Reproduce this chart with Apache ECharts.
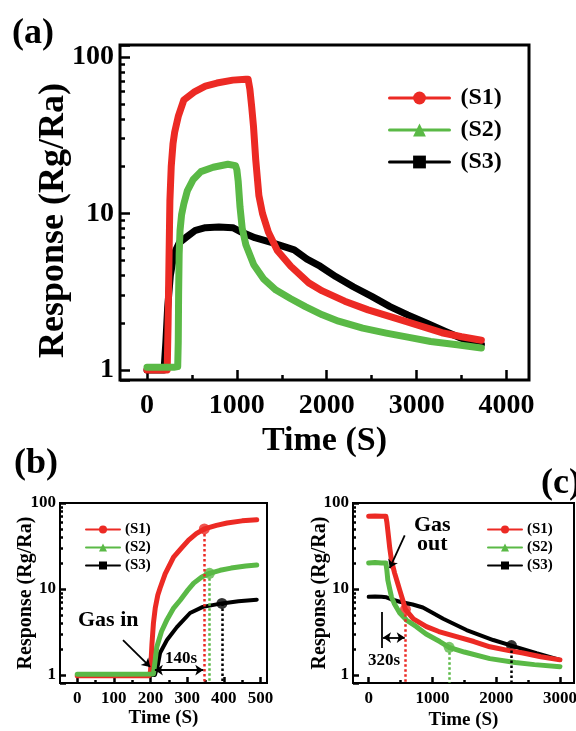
<!DOCTYPE html>
<html>
<head>
<meta charset="utf-8">
<script src="https://cdn.jsdelivr.net/npm/echarts@6/dist/echarts.min.js"></script>
<style>
html, body { margin: 0; padding: 0; background: #fff; }
#container { width: 576px; height: 731px; }
</style>
</head>
<body>
<div id="container"></div>
<script>
// ---- dados: [tempo (s), resposta Rg/Ra] ----
// (a) ciclo completo
var s1a = [[0,1.0],[100,1.0],[200,1.0],[225,1.0],[235,2],[245,5],[255,12],[270,20],[290,28],[308,33],[350,42],[410,53],[533,60],[650,65],[778,68],[955,71],[1100,72],[1125,72],[1145,62],[1165,48],[1185,36],[1210,22],[1245,13],[1285,10],[1350,7.6],[1450,5.8],[1600,4.6],[1800,3.6],[1950,3.2],[2200,2.75],[2460,2.42],[2870,2.05],[3280,1.73],[3500,1.63],[3720,1.55]];
var s2a = [[0,1.04],[100,1.04],[200,1.04],[300,1.04],[342,1.05],[348,1.5],[352,3],[358,5.5],[368,7.8],[385,9.8],[410,11.5],[450,14],[512,16.4],[600,18.5],[737,19.7],[900,20.6],[985,20.2],[1000,19],[1015,16],[1035,11],[1060,8],[1100,6.3],[1188,4.7],[1300,3.8],[1435,3.24],[1600,2.85],[1762,2.54],[1950,2.25],[2131,2.05],[2400,1.85],[2662,1.72],[2900,1.62],[3156,1.52],[3450,1.45],[3720,1.38]];
var s3a = [[0,1.0],[100,1.0],[190,1.0],[210,1.5],[230,2.5],[260,4],[300,5.5],[360,6.5],[431,7.0],[540,7.8],[650,8.1],[800,8.2],[955,8.1],[1050,7.6],[1200,7.0],[1393,6.5],[1500,6.2],[1638,5.85],[1780,5.1],[1926,4.6],[2100,3.95],[2295,3.4],[2500,2.95],[2704,2.54],[2900,2.25],[3114,1.99],[3320,1.76],[3523,1.57],[3720,1.45]];

// (b) entrada de gás
var s1b = [[0,0.98],[100,0.98],[196,0.98],[200,1.1],[204,2.3],[208,4],[213,6],[220,8.5],[226,10.2],[240,15],[263,23.5],[285,30],[304,37],[325,44],[347,50],[380,55],[409,58.5],[450,62],[490,64]];
var s2b = [[0,1.02],[100,1.02],[208,1.03],[213,1.5],[217,2.1],[230,3.2],[245,4.4],[262,5.9],[281,7.4],[300,9.5],[318,11.7],[340,13.8],[361,15.2],[390,16.5],[420,17.5],[460,18.5],[490,19]];
var s3b = [[0,1.0],[100,1.0],[212,1.0],[220,1.3],[226,1.8],[245,2.55],[272,3.6],[308,5.26],[343,6.2],[395,6.8],[440,7.2],[490,7.5]];

// (c) saída de gás
var s1c = [[0,70],[100,70.5],[200,70],[270,70],[285,60],[300,48],[315,38],[330,30],[360,21],[408,15.2],[450,12],[487,9.7],[540,7.2],[576,5.8],[700,4.5],[906,3.65],[1100,3.2],[1377,2.79],[1650,2.45],[1900,2.13],[2200,1.92],[2420,1.8],[2700,1.63],[3000,1.5]];
var s2c = [[0,20],[100,20.3],[200,20],[270,20],[285,16.5],[300,12.7],[330,10],[357,8.1],[400,6.8],[487,5.26],[600,4.3],[749,3.65],[900,3.0],[1115,2.45],[1262,2.1],[1500,1.85],[1900,1.55],[2300,1.4],[2600,1.32],[3000,1.25]];
var s3c = [[0,8.1],[100,8.2],[200,8.1],[280,8.0],[350,7.6],[487,7.1],[690,6.6],[850,6.1],[1000,5.3],[1168,4.5],[1535,3.33],[1953,2.55],[2240,2.2],[2632,1.79],[3000,1.5]];

// pontos marcados (linhas pontilhadas verticais)
var markB = [[347,50],[361,15.2],[395,6.8]];
var markC = [[576,5.8],[1262,2.1],[2240,2.2]];

// setas de anotação
var arrowGasIn = [[125,2.55],[199,1.24]];
var arrow140 = [[212,1.14],[344,1.14]];
var arrowGasOut = [[565,42],[330,17.5]];
var bar320 = [[209,5.4],[209,2.06]];
var arrow320 = [[225,2.72],[565,2.72]];

// marcas dos eixos
var xMajorA = [0,1000,2000,3000,4000];
var xMinorA = [500,1500,2500,3500];
var xMajorB = [0,100,200,300,400,500];
var xMinorB = [50,150,250,350,450];
var xMajorC = [0,1000,2000,3000];
var xMinorC = [500,1500,2500];
var yMinorLog = [2,3,4,5,6,7,8,9,20,30,40,50,60,70,80,90];

var names = ['(S1)', '(S2)', '(S3)'];
var colors = ['#ec2a24', '#5ab946', '#000000'];
var symbols = ['circle', 'triangle', 'rect'];
var FONT = '"Liberation Serif", "Times New Roman", serif';

var dom = document.getElementById('container');
var myChart = echarts.init(dom, null, { renderer: 'canvas' });

// layout de cada painel
var panels = [
    { grid: { left: 120, top: 45, width: 409, height: 335 }, border: 3,
      xMin: -300, xMax: 4250, yMin: 0.863, yMax: 119, xMajor: xMajorA, xMinor: xMinorA,
      tickFont: 28, tickLen: 10, labelGapX: 12, labelGapY: 6, nameFontX: 34, nameFontY: 36,
      nameGapX: 44, nameGapY: 48, namePadY: [0, 16, 0, 0], lineW: [7, 7, 7], series: [s1a, s2a, s3a] },
    { grid: { left: 60, top: 503, width: 207, height: 180 }, border: 2,
      xMin: -47, xMax: 518, yMin: 0.807, yMax: 100, xMajor: xMajorB, xMinor: xMinorB,
      tickFont: 17, tickLen: 6, labelGapX: 7, labelGapY: 4, nameFontX: 19, nameFontY: 20,
      nameGapX: 26, nameGapY: 24, namePadY: 0, lineW: [5, 5, 4], series: [s1b, s2b, s3b] },
    { grid: { left: 353, top: 503, width: 221, height: 180 }, border: 2,
      xMin: -246, xMax: 3220, yMin: 0.807, yMax: 100, xMajor: xMajorC, xMinor: xMinorC,
      tickFont: 17, tickLen: 6, labelGapX: 7, labelGapY: 4, nameFontX: 19, nameFontY: 20,
      nameGapX: 28, nameGapY: 23, namePadY: 0, lineW: [5, 5, 4], series: [s1c, s2c, s3c] }
];

var grids = [], xAxes = [], yAxes = [], series = [];

function tickOpt(len, values) {
    var t = { show: true, inside: true, length: len, lineStyle: { color: '#000', width: 2.5 } };
    if (values) t.customValues = values;
    return t;
}

panels.forEach(function (p, i) {
    grids.push(Object.assign({ show: true, borderColor: '#000', borderWidth: p.border,
        containLabel: false, outerBoundsMode: 'none' }, p.grid));

    var labelStyle = function () {
        return { color: '#000', fontFamily: FONT, fontWeight: 'bold', fontSize: p.tickFont };
    };
    var nameStyle = function (s, pad) {
        return { color: '#000', fontFamily: FONT, fontWeight: 'bold', fontSize: s, padding: pad || 0 };
    };

    // eixo X principal
    xAxes.push({
        gridIndex: i, type: 'value', position: 'bottom', min: p.xMin, max: p.xMax,
        name: 'Time (S)', nameLocation: 'middle', nameGap: p.nameGapX, nameTextStyle: nameStyle(p.nameFontX),
        axisLine: { show: false, onZero: false }, splitLine: { show: false },
        axisTick: tickOpt(p.tickLen, p.xMajor),
        axisLabel: Object.assign({ margin: p.labelGapX, customValues: p.xMajor,
            formatter: function (v) { return String(v); } }, labelStyle())
    });
    // marcas menores de X
    xAxes.push({
        gridIndex: i, type: 'value', position: 'bottom', min: p.xMin, max: p.xMax,
        axisLine: { show: false, onZero: false }, splitLine: { show: false }, axisLabel: { show: false },
        axisTick: tickOpt(p.tickLen / 2, p.xMinor)
    });
    // eixo Y logarítmico
    yAxes.push({
        gridIndex: i, type: 'log', logBase: 10, position: 'left', min: p.yMin, max: p.yMax,
        name: 'Response (Rg/Ra)', nameLocation: 'middle', nameGap: p.nameGapY, nameMoveOverlap: false,
        nameTextStyle: nameStyle(p.nameFontY, p.namePadY),
        axisLine: { show: false, onZero: false }, splitLine: { show: false },
        axisTick: tickOpt(p.tickLen),
        axisLabel: Object.assign({
            margin: p.labelGapY,
            formatter: function (v) {
                var l = Math.log10(v);
                return Math.abs(l - Math.round(l)) < 1e-6 ? String(Math.round(v)) : '';
            }
        }, labelStyle())
    });
    // marcas menores log (2..9) num eixo auxiliar em log10
    yAxes.push({
        gridIndex: i, type: 'value', position: 'left',
        min: Math.log10(p.yMin), max: Math.log10(p.yMax),
        axisLine: { show: false, onZero: false }, splitLine: { show: false }, axisLabel: { show: false },
        axisTick: tickOpt(p.tickLen / 2, yMinorLog.map(function (v) { return Math.log10(v); }))
    });

    // ordem de desenho: S3 embaixo, S1, S2 por cima
    [2, 0, 1].forEach(function (k) {
        series.push({
            name: names[k], type: 'line', xAxisIndex: 2 * i, yAxisIndex: 2 * i,
            data: p.series[k], showSymbol: false, symbol: symbols[k], symbolSize: 8,
            itemStyle: { color: colors[k] },
            lineStyle: { color: colors[k], width: p.lineW[k], cap: 'round', join: 'round' }
        });
    });
});

// pontos, linhas pontilhadas e setas dos painéis (b) e (c)
function dotted(pt, c, yMin) {
    return [{ coord: pt, symbol: 'none', lineStyle: { color: c, type: 'dotted', width: 2.5 } },
            { coord: [pt[0], yMin], symbol: 'none' }];
}
function arrow(a, s0, s1) {
    return [{ coord: a[0], symbol: s0, lineStyle: { color: '#000', type: 'solid', width: 1.8 } },
            { coord: a[1], symbol: s1 }];
}
[[1, markB, [arrow(arrowGasIn, 'none', 'arrow'), arrow(arrow140, 'arrow', 'arrow')]],
 [2, markC, [arrow(arrowGasOut, 'none', 'arrow'), arrow(bar320, 'none', 'none'), arrow(arrow320, 'arrow', 'arrow')]]
].forEach(function (m) {
    var i = m[0], pts = m[1], yMin = panels[i].yMin;
    var lines = pts.map(function (pt, k) { return dotted(pt, colors[k], yMin); }).concat(m[2]);
    series.push({
        name: 'marks', type: 'scatter', xAxisIndex: 2 * i, yAxisIndex: 2 * i,
        symbol: 'circle', symbolSize: 11,
        data: pts.map(function (pt, k) { return { value: pt, itemStyle: { color: colors[k] } }; }),
        markLine: { silent: true, symbolSize: 8, label: { show: false }, animation: false, data: lines }
    });
});

function legendAt(left, top, big) {
    return {
        orient: 'vertical', left: left, top: top, selectedMode: false,
        data: names, itemWidth: big ? 60 : 34, itemHeight: big ? 16 : 10,
        itemGap: big ? 8 : 3,
        lineStyle: { width: big ? 3 : 2 },
        textStyle: { color: '#000', fontFamily: FONT, fontWeight: 'bold',
            fontSize: big ? 24 : 15, lineHeight: big ? 24 : 15, padding: [0, 0, 0, big ? 6 : 0] }
    };
}

function txt(x, y, s, size, align) {
    return { type: 'text', left: x, top: y, style: { text: s, fill: '#000', fontFamily: FONT,
        fontWeight: 'bold', fontSize: size, textAlign: align || 'left', lineHeight: size * 0.9 } };
}

var option = {
    animation: false,
    backgroundColor: '#fff',
    grid: grids,
    xAxis: xAxes,
    yAxis: yAxes,
    legend: [legendAt(383, 81, true), legendAt(80, 517, false), legendAt(482, 517, false)],
    series: series,
    graphic: [
        txt(12, 16, '(a)', 36),
        txt(14, 446, '(b)', 36),
        txt(541, 466, '(c)', 36),
        txt(78, 609, 'Gas in', 22),
        txt(165, 650, '140s', 17),
        txt(414, 514, 'Gas\nout', 22, 'center'),
        txt(368, 652, '320s', 17)
    ]
};

myChart.setOption(option);

window.addEventListener('resize', function () {
    myChart.resize();
});
</script>
</body>
</html>
